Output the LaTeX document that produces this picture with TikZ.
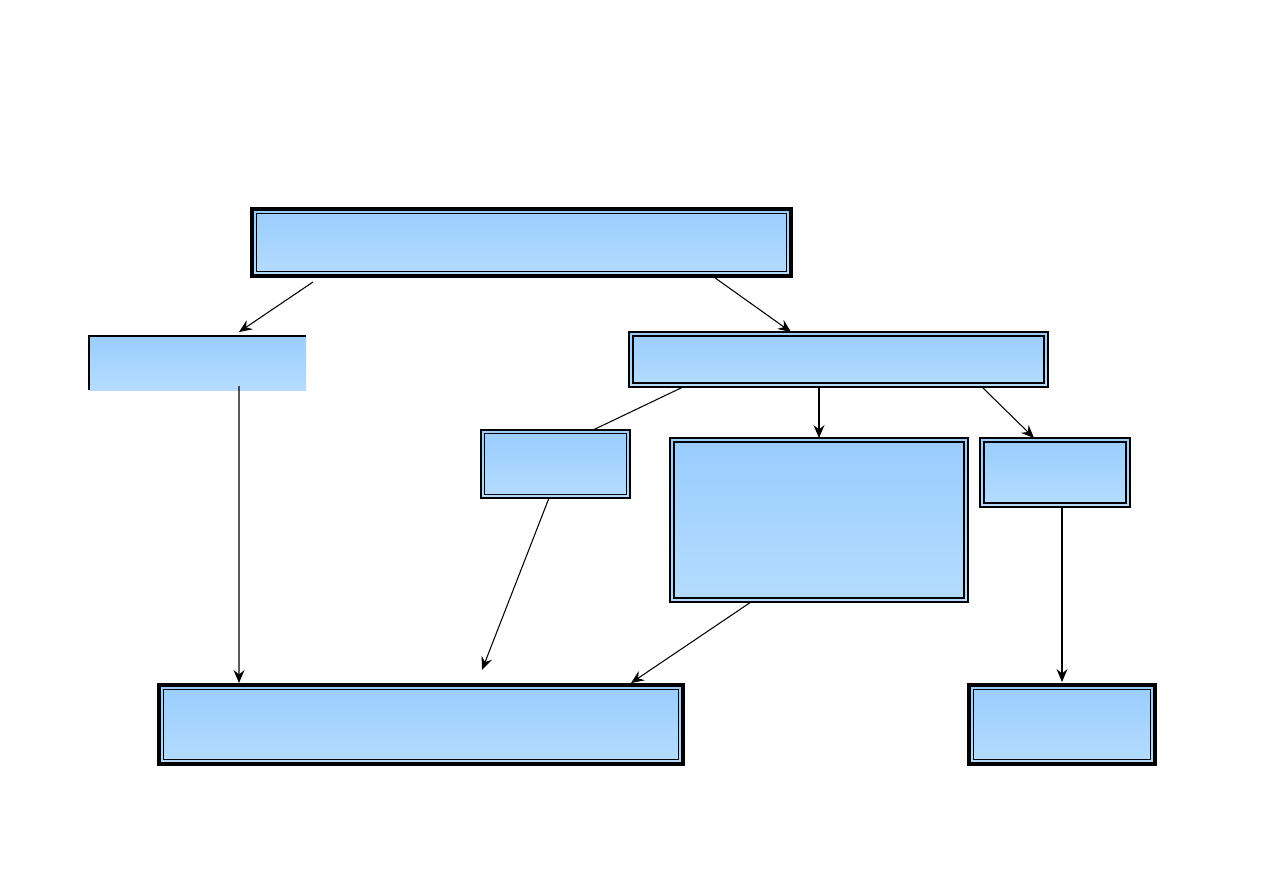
\documentclass[tikz,border=0pt]{standalone}
\usepackage{tikz}
\usetikzlibrary{arrows.meta,positioning,calc}

\definecolor{boxtop}{RGB}{153,204,255}
\definecolor{boxbot}{RGB}{181,220,255}

\begin{document}
\begin{tikzpicture}[
  >={Stealth[length=2.6mm,width=2.2mm,inset=0.9mm]},
  link/.style={draw, line width=0.6pt},
  plain/.style={top color=boxtop, bottom color=boxbot, inner sep=0pt, outer sep=0pt},
  heavy/.style={plain, draw, line width=2.8pt,
    path picture={\draw[line width=0.7pt] ([shift={(2.5pt,-2.5pt)}]path picture bounding box.north west) rectangle ([shift={(-2.5pt,2.5pt)}]path picture bounding box.south east);}},
  framed/.style={plain, draw, line width=0.6pt,
    path picture={\draw[line width=1.1pt] ([shift={(2.3pt,-2.3pt)}]path picture bounding box.north west) rectangle ([shift={(-2.3pt,2.3pt)}]path picture bounding box.south east);}},
  slim/.style={plain, draw, line width=0.6pt,
    path picture={\draw[line width=0.7pt] ([shift={(2.2pt,-2.2pt)}]path picture bounding box.north west) rectangle ([shift={(-2.2pt,2.2pt)}]path picture bounding box.south east);}}
]
\useasboundingbox (0,0) rectangle (25.26,-17.86);

\node[heavy, minimum width=10.78cm, minimum height=1.34cm] (top) at (10.43,-4.85) {};
\node[plain, minimum width=4.34cm, minimum height=1.08cm] (lbox) at (3.95,-7.26) {};
\draw[line width=0.6pt] (lbox.south west) -- (lbox.north west) -- (lbox.north east);
\node[framed, minimum width=8.38cm, minimum height=1.10cm] (mid) at (16.77,-7.19) {};
\node[slim, minimum width=2.98cm, minimum height=1.36cm] (small) at (11.11,-9.28) {};
\node[framed, minimum width=5.96cm, minimum height=3.28cm] (big) at (16.38,-10.40) {};
\node[framed, minimum width=3.00cm, minimum height=1.38cm] (rsmall) at (21.10,-9.45) {};
\node[heavy, minimum width=10.48cm, minimum height=1.58cm] (botl) at (8.42,-14.49) {};
\node[heavy, minimum width=3.72cm, minimum height=1.58cm] (botr) at (21.24,-14.49) {};

\coordinate (tip) at (9.64,-13.40);

\draw[link, ->] ([xshift=1.22cm, yshift=-0.12cm]top.south west) -- ([xshift=0.83cm, yshift=0.08cm]lbox.north);
\draw[link, ->] ([xshift=3.79cm, yshift=0.02cm]top.south) -- ([xshift=-0.95cm]mid.north);
\draw[link, ->] ([xshift=0.83cm, yshift=0.08cm]lbox.south) -- ([xshift=-3.64cm, yshift=0.04cm]botl.north);
\draw[link] ([xshift=-3.11cm]mid.south) -- ([xshift=0.75cm]small.north);
\draw[link, ->] (big.north |- mid.south) -- (big.north);
\draw[link, ->] ([xshift=2.87cm]mid.south) -- ([xshift=-0.42cm]rsmall.north);
\draw[link, ->] ([xshift=-0.13cm]small.south) -- (tip);
\draw[link, ->] ([xshift=-1.36cm]big.south) -- ([xshift=4.2cm, yshift=0.04cm]botl.north);
\draw[link, ->] ([yshift=-0.02cm]botr.north |- rsmall.south) -- ([yshift=0.06cm]botr.north);
\end{tikzpicture}
\end{document}
